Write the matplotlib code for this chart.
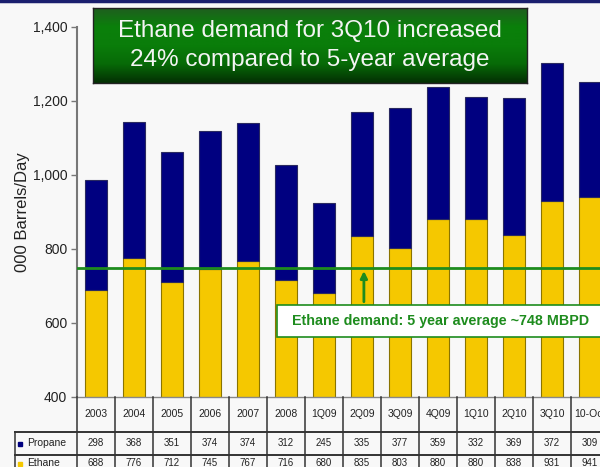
import numpy as np
import matplotlib
matplotlib.use("Agg")
import matplotlib.pyplot as plt
from matplotlib.colors import LinearSegmentedColormap
from matplotlib.lines import Line2D
from matplotlib.patches import Rectangle

plt.rcParams['font.family'] = ['Liberation Sans', 'DejaVu Sans']

periods = ["2003", "2004", "2005", "2006", "2007", "2008", "1Q09", "2Q09",
           "3Q09", "4Q09", "1Q10", "2Q10", "3Q10", "10-Oct"]
propane = [298, 368, 351, 374, 374, 312, 245, 335, 377, 359, 332, 369, 372, 309]
ethane = [688, 776, 712, 745, 767, 716, 680, 835, 803, 880, 880, 838, 931, 941]
five_year_avg = 748
y_ticks = [400, 600, 800, 1000, 1200, 1400]

W, H = 600, 467
BG = '#f8f8f8'
ETH_COL = '#f5c800'
PRO_COL = '#000080'
GREEN = '#1e8c1e'

fig = plt.figure(figsize=(6, 4.67), dpi=100, facecolor=BG)

# main axes - runs past the right edge like the original slide crop
ax_l, ax_r = 77, 609
ax_t, ax_b = 27, 397
ax = fig.add_axes([ax_l / W, (H - ax_b) / H, (ax_r - ax_l) / W, (ax_b - ax_t) / H])
ax.set_facecolor(BG)

x = np.arange(len(periods))
ax.bar(x, ethane, width=0.58, bottom=0, color=ETH_COL, edgecolor='#8a7400', linewidth=0.8, zorder=2)
ax.bar(x, propane, width=0.58, bottom=ethane, color=PRO_COL, edgecolor='#2a2a60', linewidth=0.8, zorder=2)

ax.set_xlim(-0.5, len(periods) - 0.5)
ax.set_ylim(400, 1400)
ax.set_yticks(y_ticks)
ax.set_yticklabels([f"{v:,}" for v in y_ticks], fontsize=10, color='#222222')
ax.set_xticks([])
ax.tick_params(axis='y', direction='out', length=4, width=1, color='#777777', pad=3)
for s in ['top', 'right']:
    ax.spines[s].set_visible(False)
ax.spines['left'].set_color('#777777')
ax.spines['left'].set_linewidth(1.5)
ax.spines['bottom'].set_color('#888888')
ax.spines['bottom'].set_linewidth(1)

ax.set_ylabel("000 Barrels/Day", fontsize=12, color='#222222', labelpad=1.5)

# 5-year average line + callout
ax.axhline(five_year_avg, color=GREEN, linewidth=2, zorder=3)
ax.annotate("", xy=(7.05, five_year_avg), xytext=(7.05, 650),
            arrowprops=dict(arrowstyle='-|>', color=GREEN, lw=2, mutation_scale=10),
            zorder=4)
fig.add_artist(Rectangle((277 / W, 1 - 337 / H), (612 - 277) / W, 32 / H,
                         transform=fig.transFigure, facecolor='white',
                         edgecolor=GREEN, linewidth=1.2, zorder=5))
fig.text(292 / W, 1 - 321 / H, "Ethane demand: 5 year average ~748 MBPD",
         fontsize=10.3, fontweight='bold', color=GREEN, ha='left', va='center', zorder=6)

# title box with green gradient
bx = fig.add_axes([93 / W, (H - 83) / H, (527 - 93) / W, 75 / H])
cmap = LinearSegmentedColormap.from_list('g', ['#1f5f1f', '#0a800a', '#0a7d0a', '#076a07', '#032f03'])
grad = np.linspace(0, 1, 100).reshape(-1, 1)
bx.imshow(grad, aspect='auto', cmap=cmap, extent=[0, 1, 0, 1], origin='upper')
bx.set_xticks([])
bx.set_yticks([])
for s in bx.spines.values():
    s.set_color('#222222')
    s.set_linewidth(1)
bx.text(0.5, 0.5, "Ethane demand for 3Q10 increased\n24% compared to 5-year average",
        ha='center', va='center', fontsize=17.5, color='#f4f4f4', linespacing=1.38,
        transform=bx.transAxes)

# data table under the chart, drawn in pixel rows
tx = fig.add_axes([ax_l / W, 0, (ax_r - ax_l) / W, (H - ax_b) / H])
tx.set_xlim(-0.5, len(periods) - 0.5)
tx.set_ylim(H - ax_b, 0)
tx.axis('off')
left_edge = -0.5 - (ax_l - 15) / 38
lc = '#333333'
for i in range(len(periods) + 1):
    tx.plot([i - 0.5, i - 0.5], [0, 80], color=lc, lw=1.1, clip_on=False)
for yy in [35, 58]:
    tx.plot([left_edge, len(periods) - 0.5], [yy, yy], color=lc, lw=1.4, clip_on=False)
tx.plot([left_edge, left_edge], [35, 80], color=lc, lw=1.1, clip_on=False)

for i, p in enumerate(periods):
    tx.text(i, 17, p, ha='center', va='center', fontsize=7.5, color='#222222', clip_on=False)
    tx.text(i, 46.5, str(propane[i]), ha='center', va='center', fontsize=7, color='#222222', clip_on=False)
    tx.text(i, 66.5, str(ethane[i]), ha='center', va='center', fontsize=7, color='#222222', clip_on=False)

lab_x = -0.5 - (ax_l - 27) / 38
mk_x = -0.5 - (ax_l - 20) / 38
for yy, name, col in [(46.5, "Propane", PRO_COL), (66.5, "Ethane", ETH_COL)]:
    tx.plot([mk_x], [yy], marker='s', markersize=3.5, color=col, clip_on=False)
    tx.text(lab_x, yy, name, ha='left', va='center', fontsize=7.5, color='#222222', clip_on=False)

# dark frame line along the top edge
fig.add_artist(Line2D([0, 1], [0.997, 0.997], transform=fig.transFigure, color='#1a1f6e', lw=2.5))

fig.savefig("out.png", dpi=100, facecolor=BG)
